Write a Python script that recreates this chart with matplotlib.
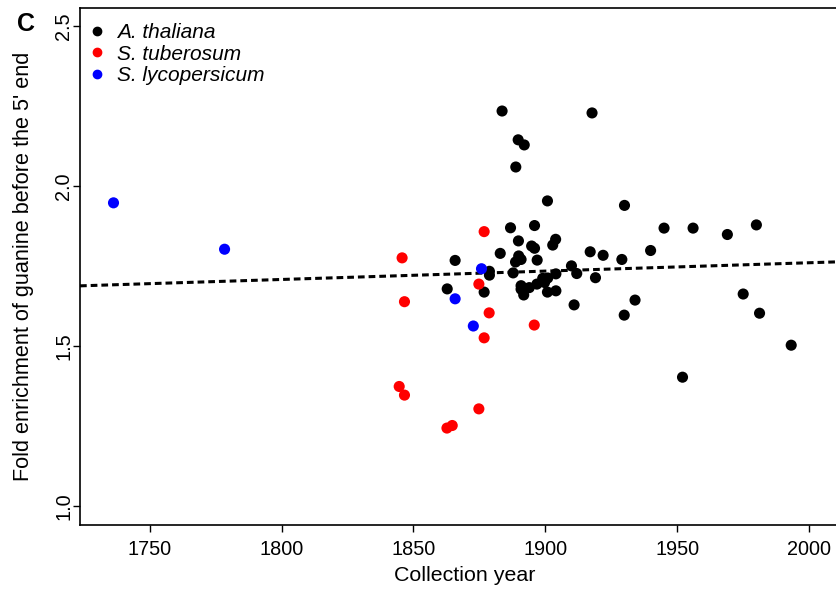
import matplotlib
matplotlib.use("Agg")
import matplotlib.pyplot as plt
from matplotlib.lines import Line2D

plt.rcParams['font.family'] = ['Liberation Sans', 'DejaVu Sans']

# A. thaliana
ath_year = [1883.6, 1917.7, 1889.7, 1892.0, 1888.8, 1900.8, 1930.0, 1886.8, 1895.9, 1889.8,
            1903.9, 1902.8, 1894.8, 1895.9, 1882.9, 1889.9, 1890.8, 1888.7, 1896.9, 1917.0,
            1921.9, 1929.0, 1909.9, 1911.9, 1919.0, 1878.8, 1878.8, 1887.8, 1904.0, 1899.0,
            1900.9, 1899.7, 1890.8, 1896.8, 1893.9, 1890.8, 1900.8, 1904.0, 1891.8, 1876.8,
            1865.8, 1862.8, 1910.9, 1929.9, 1934.0, 1945.0, 1956.0, 1969.0, 1980.0, 1939.9,
            1975.0, 1981.2, 1993.2, 1952.0]
ath_val = [2.234, 2.228, 2.144, 2.128, 2.059, 1.953, 1.939, 1.869, 1.876, 1.828,
           1.833, 1.815, 1.812, 1.805, 1.789, 1.781, 1.770, 1.762, 1.768, 1.794,
           1.783, 1.770, 1.750, 1.726, 1.713, 1.733, 1.721, 1.728, 1.725, 1.711,
           1.712, 1.698, 1.688, 1.693, 1.682, 1.677, 1.668, 1.672, 1.659, 1.668,
           1.767, 1.678, 1.628, 1.596, 1.643, 1.868, 1.868, 1.848, 1.878, 1.798,
           1.662, 1.602, 1.502, 1.402]

# S. tuberosum
stu_year = [1845.7, 1846.6, 1844.6, 1846.6, 1862.7, 1864.7, 1874.8, 1874.8, 1878.7, 1876.8,
            1895.8, 1876.8]
stu_val = [1.775, 1.638, 1.373, 1.346, 1.243, 1.251, 1.303, 1.693, 1.603, 1.525,
           1.565, 1.857]

# S. lycopersicum
sly_year = [1736.3, 1778.4, 1875.8, 1865.8, 1872.7]
sly_val = [1.947, 1.802, 1.741, 1.647, 1.562]

# fitted trend line
fit_years = [1723.6, 2010.6]
fit_vals = [1.6875, 1.7625]

species = ['A. thaliana', 'S. tuberosum', 'S. lycopersicum']
colors = ['black', 'red', 'blue']

W, H = 837, 595
ax_l, ax_r, ax_t, ax_b = 80, 840, 8, 525
fig = plt.figure(figsize=(W/100, H/100), dpi=100)
ax = fig.add_axes([ax_l/W, 1-ax_b/H, (ax_r-ax_l)/W, (ax_b-ax_t)/H])
axw, axh = ax_r-ax_l, ax_b-ax_t

for (xs, ys), c in zip([(ath_year, ath_val), (stu_year, stu_val), (sly_year, sly_val)], colors):
    ax.scatter(xs, ys, s=64, c=c, edgecolors='none', zorder=3)

slope = (fit_vals[1]-fit_vals[0])/(fit_years[1]-fit_years[0])
ax.axline((fit_years[0], fit_vals[0]), slope=slope, color='black', lw=2.2,
          linestyle=(0, (2.2, 1.3)), zorder=2)

ax.set_xlim(1723.6, 1723.6 + (ax_r-ax_l)/2.638)
ax.set_ylim(0.94, 2.556)
ax.set_xticks([1750, 1800, 1850, 1900, 1950, 2000])
ax.set_yticks([1.0, 1.5, 2.0, 2.5])
ax.set_yticklabels(['1.0', '1.5', '2.0', '2.5'], rotation=90, va='center')
ax.tick_params(direction='out', length=5, width=1, labelsize=14.3)
ax.tick_params(axis='x', pad=6)
ax.tick_params(axis='y', pad=0)
for sp in ax.spines.values():
    sp.set_linewidth(1.2)

ax.set_xlabel('Collection year', fontsize=15.4)
ax.xaxis.set_label_coords((464.5-ax_l)/axw, -(566-ax_b)/axh)
ax.set_ylabel("Fold enrichment of guanine before the 5' end", fontsize=15.6)
ax.yaxis.set_label_coords(-(ax_l-34)/axw, 0.5)

handles = [Line2D([], [], marker='o', linestyle='none', color=c, markersize=6) for c in colors]
leg = ax.legend(handles, species, loc='upper left',
                bbox_to_anchor=((91-ax_l)/axw, 1+(ax_t-23)/axh), frameon=False,
                prop={'style': 'italic', 'size': 15}, handlelength=0.6, handletextpad=0.66,
                labelspacing=0.12, borderaxespad=0, borderpad=0)

fig.text(26/W, 1-24/H, 'C', fontsize=18, fontweight='bold', ha='center', va='center')

fig.savefig('out.png', dpi=100)
